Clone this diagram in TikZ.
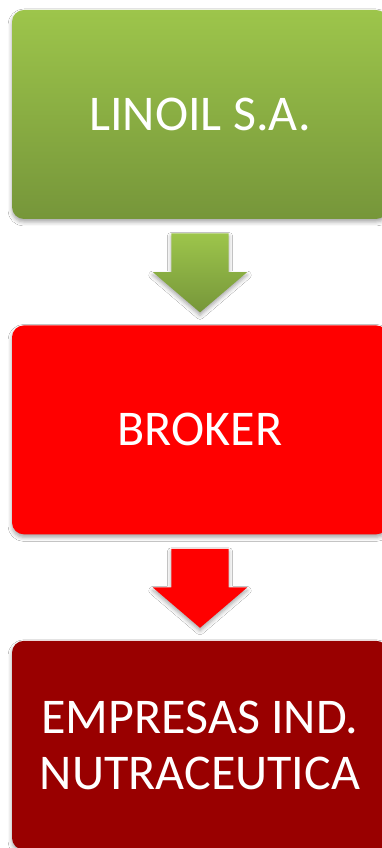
\documentclass[tikz,border=0pt]{standalone}
\usepackage{fontspec}
\setmainfont{Carlito}
\usetikzlibrary{calc,positioning,shapes.arrows,shadows.blur}
\definecolor{lcGreenTop}{HTML}{9DC54B}
\definecolor{lcGreenBot}{HTML}{76963A}
\definecolor{lcRed}{HTML}{FF0000}
\definecolor{lcDark}{HTML}{990000}
\tikzset{
  lc shadow/.style={blur shadow={shadow xshift=0pt, shadow yshift=-3pt,
      shadow blur radius=4pt, shadow opacity=35}},
  lc box/.style={
    rounded corners=12pt,
    minimum width=376pt, minimum height=209pt,
    inner sep=0pt, align=center,
    text=white, font=\fontsize{50}{56}\selectfont,
    lc shadow
  },
  lc flow/.style={
    single arrow, shape border rotate=270, anchor=tail,
    single arrow head extend=18.5pt, single arrow head indent=0pt,
    single arrow tip angle=99,
    minimum width=94pt, minimum height=79pt,
    inner xsep=28.5pt, inner ysep=0pt, draw=none, lc shadow
  }
}
\begin{document}
\begin{tikzpicture}[x=1pt,y=1pt]
  \useasboundingbox[fill=white] (0,0) rectangle (382,848);

  \node[lc box, top color=lcGreenTop, bottom color=lcGreenBot] (linoil) at (200,733.5) {LINOIL S.A.};
  \node[lc box, fill=lcRed, below=106pt of linoil] (broker) {BROKER};
  \node[lc box, fill=lcDark, below=106pt of broker] (empresas) {EMPRESAS IND.\\NUTRACEUTICA};

  \node[lc flow, top color=lcGreenTop, bottom color=lcGreenBot] (flow1)
    at ($(linoil.south)+(0,-14)$) {};
  \node[lc flow, fill=lcRed] (flow2)
    at ($(broker.south)+(0,-14)$) {};
\end{tikzpicture}
\end{document}
